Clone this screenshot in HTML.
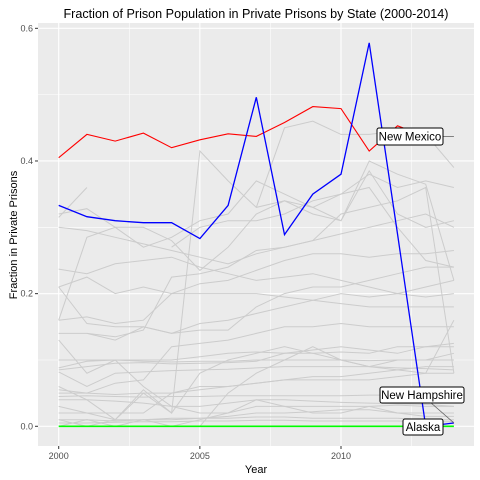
<!DOCTYPE html>
<html><head><meta charset="utf-8"><style>
body{margin:0;background:#fff;}
svg{display:block;font-family:"Liberation Sans",Arial,sans-serif;}
</style></head><body>
<svg id="chart" width="480" height="480" viewBox="0 0 480 480">
<rect x="0" y="0" width="480" height="480" fill="#fff"/>
<text x="256" y="18" text-anchor="middle" font-size="12.6" fill="#000">Fraction of Prison Population in Private Prisons by State (2000-2014)</text>
<rect x="38" y="23" width="436" height="423" fill="#ebebeb"/>
<g id="grid"></g>
<g id="marks"></g>
<g id="axes"></g>
<g id="labels"></g>
<text x="256" y="473" text-anchor="middle" font-size="11" fill="#000">Year</text>
<text transform="translate(17,235) rotate(-90)" text-anchor="middle" font-size="11" fill="#000">Fraction in Private Prisons</text>
</svg>
<script>
const years=[2000,2001,2002,2003,2004,2005,2006,2007,2008,2009,2010,2011,2012,2013,2014];
const xTicks=[2000,2005,2010];
const yTicks=[0,0.2,0.4,0.6];
const newMexico=[0.405,0.44,0.43,0.442,0.42,0.432,0.441,0.437,0.458,0.482,0.479,0.415,0.453,0.437,null];
const newHampshire=[0.333,0.316,0.31,0.307,0.307,0.283,0.333,0.496,0.289,0.35,0.38,0.578,0.29,0.0,0.005];
const alaska=[0,0,0,0,0,0,0,0,0,0,0,0,0,0,0];
const grayA=[0.315,0.36,null,null,null,null,null,null,null,null,null,null,null,null,null];
const grayB=[0.32,0.328,0.30,0.27,0.285,0.31,0.32,0.37,0.35,0.33,0.35,0.38,0.36,0.37,0.36];
const grayC=[0.30,0.295,0.285,0.275,0.265,0.255,0.245,0.26,0.27,0.28,0.29,0.3,0.31,0.32,0.3];
const grayD=[0.237,0.23,0.245,0.25,0.255,0.24,0.23,0.22,0.225,0.23,0.22,0.21,0.2,0.195,0.2];
const grayE=[0.21,0.225,0.2,0.21,0.2,0.215,0.22,0.235,0.25,0.26,0.26,0.255,0.26,0.26,0.265];
const grayF=[0.21,0.155,0.15,0.15,0.14,0.155,0.16,0.17,0.18,0.19,0.2,0.195,0.2,0.21,0.22];
const grayG=[0.16,0.165,0.155,0.16,0.2,0.2,0.2,0.2,0.195,0.19,0.185,0.18,0.18,0.18,0.18];
const grayH=[0.16,0.285,0.30,0.30,0.28,0.235,0.27,0.32,0.34,0.33,0.31,0.385,0.32,0.3,0.31];
const grayI=[0.13,0.08,0.1,0.06,0.03,0.02,0.02,0.04,0.03,0.02,0.02,0.03,0.02,0.02,0.02];
const grayJ=[0.088,0.098,0.1,0.098,0.097,0.098,0.098,0.1,0.1,0.1,0.1,0.099,0.1,0.1,0.1];
const grayK=[0.085,0.09,0.095,0.096,0.094,0.095,0.096,0.098,0.11,0.115,0.12,0.115,0.11,0.12,0.125];
const grayL=[0.082,0.06,0.08,0.082,0.084,0.085,0.086,0.088,0.09,0.09,0.09,0.09,0.088,0.087,0.085];
const grayM=[0.055,0.05,0.065,0.07,0.12,0.125,0.13,0.14,0.15,0.15,0.155,0.15,0.15,0.15,0.15];
const grayN=[0.05,0.05,0.048,0.05,0.05,0.055,0.06,0.065,0.07,0.075,0.075,0.08,0.085,0.09,0.09];
const grayO=[0.045,0.046,0.045,0.044,0.045,0.045,0.046,0.046,0.046,0.046,0.046,0.047,0.047,0.047,0.047];
const grayP=[0.04,0.04,0.038,0.035,0.03,0.03,0.035,0.04,0.04,0.038,0.036,0.035,0.034,0.033,0.03];
const grayQ=[0.03,0.02,0.01,0.01,0.01,0.012,0.015,0.02,0.02,0.022,0.025,0.025,0.02,0.015,0.015];
const grayR=[0.01,0.01,0.008,0.01,0.012,0.012,0.012,0.014,0.014,0.012,0.012,0.012,0.012,0.01,0.01];
const grayS=[0.005,0.005,0.006,0.007,0.007,0.008,0.008,0.009,0.009,0.008,0.008,0.008,0.008,0.007,0.007];
const grayT=[0.01,0.0,0.01,0.055,0.02,0.415,0.37,0.33,0.34,0.32,0.31,0.4,0.38,0.365,0.22];
const grayU=[0.14,0.14,0.13,0.15,0.14,0.145,0.145,0.18,0.2,0.21,0.21,0.22,0.23,0.24,0.24];
const grayV=[null,0.14,0.135,0.145,0.225,0.23,0.24,0.265,0.27,0.28,0.32,0.33,0.34,0.36,0.08];
const grayW=[null,null,null,null,0.27,0.3,0.31,0.31,0.32,0.34,0.35,0.36,0.3,0.25,0.24];
const grayX=[0.06,0.04,0.01,0.05,0.02,0.08,0.1,0.11,0.12,0.11,0.1,0.09,0.1,0.1,0.11];
const grayY=[0.02,0.02,0.02,0.02,0.05,0.06,0.06,0.065,0.07,0.07,0.07,0.07,0.075,0.08,0.08];
const grayZ=[0.1,0.1,0.1,0.1,0.1,0.105,0.11,0.112,0.11,0.11,0.112,0.11,0.12,0.12,0.12];
const grayAA=[null,null,null,null,null,0.0,0.05,0.08,0.1,0.12,0.1,0.09,0.085,0.08,0.16];
const grayAB=[0.0,0.01,0.0,0.01,0.0,0.01,0.02,0.03,0.03,0.03,0.03,0.03,0.032,0.03,0.03];
const grayAC=[null,null,null,null,null,null,null,0.33,0.45,0.46,0.44,0.44,0.445,0.44,0.39];
const graySeries=[grayA,grayB,grayC,grayD,grayE,grayF,grayG,grayH,grayI,grayJ,grayK,grayL,grayM,grayN,grayO,grayP,grayQ,grayR,grayS,grayT,grayU,grayV,grayW,grayX,grayY,grayZ,grayAA,grayAB,grayAC];

const NS="http://www.w3.org/2000/svg";
const L=38,R=474,T=23,B=446;
const x=v=>58.7+(v-2000)*28.23;
const y=v=>426.3-v*663.3;
function mk(tag,attrs,parent){const e=document.createElementNS(NS,tag);for(const k in attrs)e.setAttribute(k,attrs[k]);parent.appendChild(e);return e;}
const grid=document.getElementById('grid'),marks=document.getElementById('marks'),axes=document.getElementById('axes'),labels=document.getElementById('labels');
[0.1,0.3,0.5].forEach(v=>{const e=mk('line',{x1:L,x2:R,y1:y(v),y2:y(v),stroke:'#fff','stroke-width':0.55},grid);

});
[2002.5,2007.5,2012.5].forEach(v=>{const e=mk('line',{x1:x(v),x2:x(v),y1:T,y2:B,stroke:'#fff','stroke-width':0.55},grid);

});
yTicks.forEach(v=>{const e=mk('line',{x1:L,x2:R,y1:y(v),y2:y(v),stroke:'#fff','stroke-width':1.1},grid);


const t=mk('line',{x1:L-3,x2:L,y1:y(v),y2:y(v),stroke:'#333','stroke-width':1},axes);


const l=mk('text',{x:L-5,y:y(v)+3,'text-anchor':'end','font-size':9,fill:'#4d4d4d'},axes);l.textContent=v.toFixed(1);

});
xTicks.forEach(v=>{const e=mk('line',{x1:x(v),x2:x(v),y1:T,y2:B,stroke:'#fff','stroke-width':1.1},grid);


const t=mk('line',{x1:x(v),x2:x(v),y1:B,y2:B+3,stroke:'#333','stroke-width':1},axes);


const l=mk('text',{x:x(v),y:B+13,'text-anchor':'middle','font-size':9,fill:'#4d4d4d'},axes);l.textContent=v;

});
function path(vals){let d='',pen=false;vals.forEach((v,i)=>{if(v===null){pen=false;return;}d+=(pen?'L':'M')+x(years[i]).toFixed(1)+' '+y(v).toFixed(1);pen=true;});return d;}
graySeries.forEach(s=>{const p=mk('path',{d:path(s),fill:'none',stroke:'#cccccc','stroke-width':1},marks);

});
const g=mk('path',{d:path(alaska),fill:'none',stroke:'#00ff00','stroke-width':1.6},marks);


const r=mk('path',{d:path(newMexico),fill:'none',stroke:'#ff0000','stroke-width':1.1},marks);


const b=mk('path',{d:path(newHampshire),fill:'none',stroke:'#0000ff','stroke-width':1.3},marks);


const s1=mk('line',{x1:443,y1:y(newMexico[13]),x2:x(2014),y2:y(newMexico[13]),stroke:'#666','stroke-width':0.8},labels);


const s2=mk('line',{x1:430,y1:402,x2:x(2014),y2:y(newHampshire[14]),stroke:'#666','stroke-width':0.8},labels);


function box(name,x0,y0,w,h,txt){const gg=mk('g',{},labels);


mk('rect',{x:x0,y:y0,width:w,height:h,rx:2,fill:'#fff',stroke:'#000','stroke-width':1},gg);
const t=mk('text',{x:x0+w/2,y:y0+h/2+4,'text-anchor':'middle','font-size':11.5,fill:'#000'},gg);t.textContent=txt;}
box('new-mexico-label',377,128,66,17,'New Mexico');
box('new-hampshire-label',380,387,84,16,'New Hampshire');
box('alaska-label',403,419,40,16,'Alaska');
</script>
</body></html>
